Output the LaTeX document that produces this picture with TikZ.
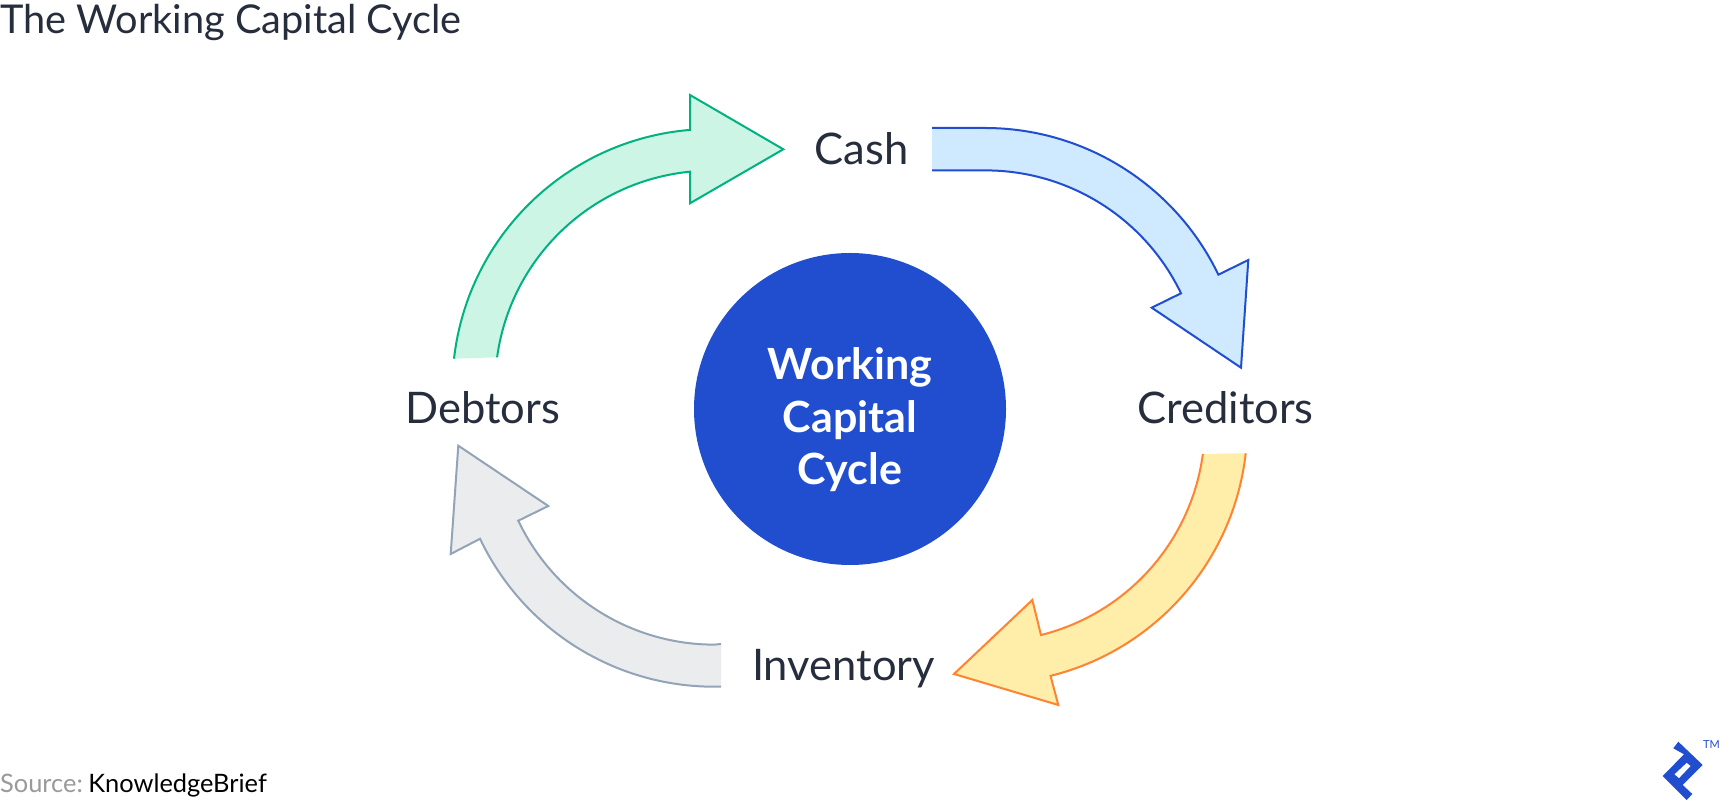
\documentclass[tikz,border=0pt]{standalone}
\usepackage{fontspec}
\setmainfont{Lato}
\definecolor{ink}{HTML}{262D3D}
\definecolor{brand}{HTML}{204ECF}
\definecolor{bluefill}{HTML}{CFE9FF}
\definecolor{greenfill}{HTML}{CCF5E5}
\definecolor{greenline}{HTML}{00B27F}
\definecolor{yellowfill}{HTML}{FFEDAA}
\definecolor{orangeline}{HTML}{FF8330}
\definecolor{greyfill}{HTML}{EAECEE}
\definecolor{greyline}{HTML}{93A3B8}
\tikzset{
  x=1pt,y=1pt,
  stage/.style={text=ink,font=\fontsize{43.5}{43.5}\selectfont,inner sep=0pt,anchor=center},
  bandline/.style={line width=2pt,line join=miter}
}
\newcommand{\bandarrow}[3]{\fill[#2] #1 -- cycle; \draw[#3,bandline] #1;}
\begin{document}
\begin{tikzpicture}
\useasboundingbox (0,0) rectangle (1720,800);
\fill[white] (0,0) rectangle (1720,800);
\node[anchor=west,inner sep=0pt,text=ink,font=\fontsize{39.7}{39.7}\selectfont] (title) at (0,777) {The Working Capital Cycle};
% centre
\node[circle,fill=brand,minimum size=312pt,inner sep=0pt] (core) at (850,391) {};
\node[inner sep=0pt,text=white,align=center,font=\fontsize{43}{52.5}\selectfont\bfseries] (corelabel) at (850,380) {Working\\Capital\\Cycle};
% labels
\node[stage] (cash) at (861.5,651) {Cash};
\node[stage] (cred) at (1225.5,392) {Creditors};
\node[stage] (inv) at (843.5,131) {Inventory};
\node[stage] (debt) at (482.5,392) {Debtors};
% green
\bandarrow{(454,441.3) arc[start angle=173.5,end angle=94.7,radius=259pt] -- (690,705) -- (783.3,650.7) -- (690,596.7) -- (690,628.3) arc[start angle=95.6,end angle=172.2,radius=216pt]}{greenfill}{greenline}
% blue
\bandarrow{(932,672) -- (985,672) arc[start angle=90,end angle=25.7,radius=259pt] -- (1248.3,540) -- (1241,432.3) -- (1151.7,492.3) -- (1181,506.7) arc[start angle=25.7,end angle=90,radius=217pt] -- (932,629.7)}{bluefill}{brand}
% yellow
\bandarrow{(1245.7,346.7) arc[start angle=-6.4,end angle=-76.1,radius=259pt] -- (1058.3,95) -- (954,126) -- (1032.3,200) -- (1041,165) arc[start angle=-76,end angle=-7.6,radius=216pt]}{yellowfill}{orangeline}
% grey
\bandarrow{(721,113.3) -- (714,113.3) arc[start angle=270,end angle=205.4,radius=259pt] -- (450.7,246) -- (458.3,354.3) -- (548.3,294) -- (518.3,279.3) arc[start angle=205.4,end angle=270,radius=217pt] -- (721,156)}{greyfill}{greyline}
% source
\node[anchor=west,inner sep=0pt,font=\fontsize{25.4}{25.4}\selectfont] (src) at (0,15) {\textcolor[HTML]{9A9A9A}{Source:}\hspace{5.5pt}\textcolor{black}{KnowledgeBrief}};
% logo
\fill[brand,even odd rule] (1678.3,58.3) -- (1702.7,35) -- (1682.7,15) -- (1692.3,6) -- (1686.7,0) -- (1662.7,24) -- (1684,45.7) -- (1673.3,51.7) -- cycle
  (1686.7,37.3) -- (1690.7,34) -- (1679,21.7) -- (1674.3,25.7) -- cycle;
\node[anchor=west,inner sep=0pt,text=brand,font=\fontsize{11}{11}\selectfont] (tm) at (1703,55) {TM};
\end{tikzpicture}
\end{document}
